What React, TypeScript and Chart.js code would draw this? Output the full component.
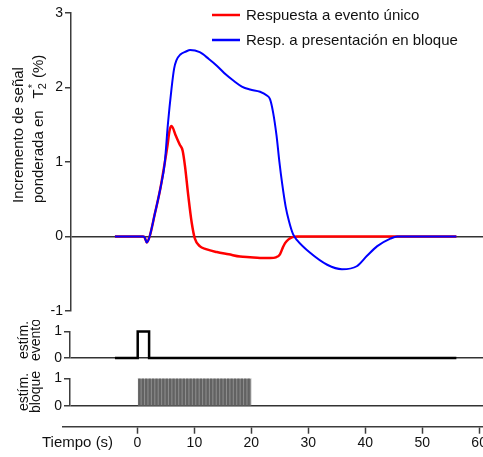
import React, { useEffect, useRef } from "react";
import { Chart, registerables } from "chart.js";

Chart.register(...registerables);

const FONT = '"Liberation Sans", Arial, Helvetica, sans-serif';
const AXIS = "#3c3c3c";
const ZERO = "#333333";

// ---- Data ----
const singleLabel = "Respuesta a evento único";
const blockLabel = "Resp. a presentación en bloque";

const singleTime = [-4, 0.9, 1.2, 1.6, 2.1, 3, 4, 4.76, 5.2, 5.6, 5.95, 6.7, 7.4, 7.9, 8.3, 8.9, 9.5, 10.05, 10.9, 12, 13.9, 16, 18, 19.75, 21.5, 23.3, 24.3, 25, 25.5, 25.9, 26.5, 27.2, 28, 56];
const singleResp = [0, 0, -0.01, -0.08, 0, 0.3, 0.65, 0.99, 1.2, 1.42, 1.48, 1.35, 1.23, 1.15, 0.95, 0.54, 0.18, -0.03, -0.13, -0.17, -0.21, -0.24, -0.27, -0.28, -0.29, -0.29, -0.28, -0.24, -0.15, -0.09, -0.04, -0.01, 0, 0];

const blockTime = [-4, 0.9, 1.2, 1.6, 2.1, 3, 4, 4.76, 5.3, 5.94, 6.4, 6.8, 7.5, 8.5, 9.2, 10.9, 12.5, 13.9, 15.5, 16.8, 18.3, 19.75, 21.5, 22.7, 23.25, 23.8, 24.4, 24.9, 25.4, 26, 26.6, 27.3, 28, 30.3, 33.3, 35.9, 38.5, 40.3, 42.1, 44.4, 45.6, 56];
const blockResp = [0, 0, -0.01, -0.08, 0, 0.3, 0.65, 0.99, 1.5, 1.98, 2.25, 2.36, 2.44, 2.48, 2.5, 2.47, 2.38, 2.29, 2.17, 2.09, 2.01, 1.97, 1.94, 1.89, 1.84, 1.66, 1.35, 1.0, 0.7, 0.4, 0.2, 0.03, -0.05, -0.22, -0.38, -0.44, -0.4, -0.26, -0.13, -0.03, 0, 0];

const eventStimTime = [-4, 0, 0, 2, 2, 56];
const eventStimValue = [0, 0, 1, 1, 0, 0];

const blockSpanTime = [0, 20];
const blockSpanValue = [1, 1];
const blockPulseOnsets = [0.3, 0.9, 1.5, 2.1, 2.7, 3.3, 3.9, 4.5, 5.1, 5.7, 6.3, 6.9, 7.5, 8.1, 8.7, 9.3, 9.9, 10.5, 11.1, 11.7, 12.3, 12.9, 13.5, 14.1, 14.7, 15.3, 15.9, 16.5, 17.1, 17.7, 18.3, 18.9, 19.5];

const mainTicks = [-1, 0, 1, 2, 3];
const stimTicks = [0, 1];
const timeTicks = [0, 10, 20, 30, 40, 50, 60];

const zip = (xs: number[], ys: number[]) => xs.map((x, i) => ({ x, y: ys[i] }));

function yScale(min: number, max: number, tickVals: number[], width: number) {
  return {
    type: "linear",
    min,
    max,
    afterFit: (s: any) => {
      s.width = width;
      s.paddingTop = 0;
      s.paddingBottom = 0;
    },
    afterBuildTicks: (s: any) => {
      s.ticks = tickVals.map((v) => ({ value: v }));
    },
    border: { display: true, color: AXIS, width: 1.5 },
    grid: {
      drawOnChartArea: true,
      color: (c: any) => (c.tick && c.tick.value === 0 ? ZERO : "rgba(0,0,0,0)"),
      lineWidth: 1.5,
      tickLength: 6,
      tickColor: AXIS,
      tickWidth: 1.5,
    },
    ticks: { color: "#111", font: { family: FONT, size: 14 }, padding: 2 },
  };
}

function hiddenX(min: number, max: number) {
  return { type: "linear", min, max, display: false, offset: false };
}

const baseOptions = (padding: any) => ({
  animation: false,
  responsive: false,
  maintainAspectRatio: false,
  layout: { padding, autoPadding: false },
  plugins: { legend: { display: false }, tooltip: { enabled: false } },
  elements: { point: { radius: 0 } },
});

function drawRotated(ctx: CanvasRenderingContext2D, x: number, y: number, fn: () => void) {
  ctx.save();
  ctx.translate(x, y);
  ctx.rotate(-Math.PI / 2);
  fn();
  ctx.restore();
}

const mainDecor = {
  id: "mainDecor",
  afterDraw(chart: any) {
    const ctx: CanvasRenderingContext2D = chart.ctx;
    ctx.save();
    // legend
    chart.data.datasets.forEach((ds: any, row: number) => {
      const y = 15 + row * 25;
      ctx.strokeStyle = ds.borderColor;
      ctx.lineWidth = 2.5;
      ctx.beginPath();
      ctx.moveTo(212, y);
      ctx.lineTo(240, y);
      ctx.stroke();
      ctx.fillStyle = "#111";
      ctx.font = `15px ${FONT}`;
      ctx.textAlign = "left";
      ctx.textBaseline = "middle";
      ctx.fillText(ds.label, 246, y + 1);
    });
    // y-axis title
    ctx.fillStyle = "#111";
    ctx.textAlign = "left";
    ctx.textBaseline = "middle";
    drawRotated(ctx, 19, 203, () => {
      ctx.font = `15px ${FONT}`;
      ctx.fillText("Incremento de señal", 0, 0);
    });
    drawRotated(ctx, 39, 203, () => {
      ctx.font = `15px ${FONT}`;
      let x = 0;
      ctx.fillText("ponderada en", x, 0);
      x += ctx.measureText("ponderada en").width + 12;
      ctx.fillText("T", x, 0);
      x += ctx.measureText("T").width;
      ctx.font = `11px ${FONT}`;
      ctx.fillText("2", x, 4);
      ctx.fillText("*", x + 1, -6);
      x += ctx.measureText("2").width + 1;
      ctx.font = `15px ${FONT}`;
      ctx.fillText(" (%)", x, 0);
    });
    ctx.restore();
  },
};

const stimTitle = (id: string, l1: string, l2: string, cy: number) => ({
  id,
  afterDraw(chart: any) {
    const ctx: CanvasRenderingContext2D = chart.ctx;
    ctx.save();
    ctx.fillStyle = "#111";
    ctx.font = `14px ${FONT}`;
    ctx.textAlign = "center";
    ctx.textBaseline = "middle";
    drawRotated(ctx, 24, cy, () => ctx.fillText(l1, 0, 0));
    drawRotated(ctx, 36, cy, () => ctx.fillText(l2, 0, 0));
    ctx.restore();
  },
});

const timeTitle = {
  id: "timeTitle",
  afterDraw(chart: any) {
    const ctx: CanvasRenderingContext2D = chart.ctx;
    ctx.save();
    ctx.fillStyle = "#111";
    ctx.font = `15px ${FONT}`;
    ctx.textAlign = "left";
    ctx.textBaseline = "middle";
    ctx.fillText("Tiempo (s)", 42, 31);
    ctx.restore();
  },
};

export default function App() {
  const mainRef = useRef<HTMLCanvasElement>(null);
  const evRef = useRef<HTMLCanvasElement>(null);
  const blRef = useRef<HTMLCanvasElement>(null);
  const axRef = useRef<HTMLCanvasElement>(null);

  useEffect(() => {
    const charts: Chart[] = [];

    charts.push(
      new Chart(mainRef.current as HTMLCanvasElement, {
        type: "line",
        data: {
          datasets: [
            { label: singleLabel, data: zip(singleTime, singleResp), borderColor: "#ff0000", borderWidth: 2.5, cubicInterpolationMode: "monotone", order: 2, fill: false },
            { label: blockLabel, data: zip(blockTime, blockResp), borderColor: "#0000ff", borderWidth: 2, cubicInterpolationMode: "monotone", order: 1, fill: false },
          ],
        },
        options: {
          ...baseOptions({ top: 12.7, bottom: 9, left: 0, right: 0 }),
          scales: { x: hiddenX(-11.72, 60.68), y: yScale(-1, 3, mainTicks, 71) },
        } as any,
        plugins: [mainDecor],
      } as any)
    );

    charts.push(
      new Chart(evRef.current as HTMLCanvasElement, {
        type: "line",
        data: {
          datasets: [
            { label: "estímulo evento", data: zip(eventStimTime, eventStimValue), borderColor: "#000000", borderWidth: 2.5, tension: 0, clip: false, fill: false },
          ],
        },
        options: {
          ...baseOptions({ top: 11.5, bottom: 7, left: 0, right: 0 }),
          scales: { x: hiddenX(-11.9, 60.68), y: yScale(0, 1, stimTicks, 70) },
        } as any,
        plugins: [stimTitle("evTitle", "estím.", "evento", 20)],
      } as any)
    );

    charts.push(
      new Chart(blRef.current as HTMLCanvasElement, {
        type: "line",
        data: {
          datasets: [
            { type: "bar", label: "pulsos", data: zip(blockPulseOnsets, blockPulseOnsets.map(() => 1)), backgroundColor: "#626262", barThickness: 1.7, order: 0 },
            { type: "line", label: "bloque", data: zip(blockSpanTime, blockSpanValue), borderColor: "#b4b4b4", borderWidth: 1, backgroundColor: "#8d8d8d", fill: "origin", order: 1 },
          ],
        },
        options: {
          ...baseOptions({ top: 13.5, bottom: 6.3, left: 0, right: 0 }),
          scales: { x: hiddenX(-11.9, 60.68), y: yScale(0, 1, stimTicks, 70) },
        } as any,
        plugins: [stimTitle("blTitle", "estím.", "bloque", 27)],
      } as any)
    );

    charts.push(
      new Chart(axRef.current as HTMLCanvasElement, {
        type: "line",
        data: { datasets: [] },
        options: {
          ...baseOptions({ top: 0, bottom: 0, left: 63, right: 0 }),
          scales: {
            x: {
              type: "linear",
              min: -13.07,
              max: 60.68,
              position: "bottom",
              offset: false,
              afterFit: (s: any) => {
                s.height = 30.3;
                s.paddingLeft = 0;
                s.paddingRight = 0;
              },
              afterBuildTicks: (s: any) => {
                s.ticks = timeTicks.map((v) => ({ value: v }));
              },
              border: { display: true, color: AXIS, width: 1.5 },
              grid: { drawOnChartArea: false, tickLength: 7, tickColor: AXIS, tickWidth: 1.5 },
              ticks: { color: "#111", font: { family: FONT, size: 14 }, padding: 1, maxRotation: 0, autoSkip: false },
            },
            y: { display: false },
          },
        } as any,
        plugins: [timeTitle],
      } as any)
    );

    return () => charts.forEach((c) => c.destroy());
  }, []);

  return (
    <div style={{ position: "absolute", left: 0, top: 0, width: 483, height: 457, background: "#ffffff" }}>
      <canvas ref={mainRef} width={483} height={320} style={{ position: "absolute", left: 0, top: 0 }} />
      <canvas ref={evRef} width={483} height={45} style={{ position: "absolute", left: 0, top: 320 }} />
      <canvas ref={blRef} width={483} height={47} style={{ position: "absolute", left: 0, top: 365 }} />
      <canvas ref={axRef} width={483} height={45} style={{ position: "absolute", left: 0, top: 412 }} />
    </div>
  );
}
